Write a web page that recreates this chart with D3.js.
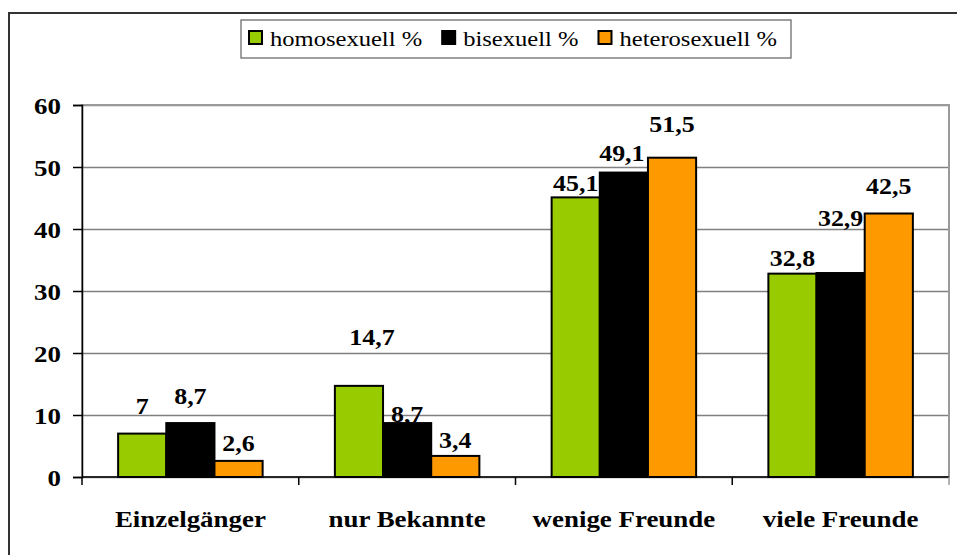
<!DOCTYPE html>
<html>
<head>
<meta charset="utf-8">
<script src="https://cdn.jsdelivr.net/npm/d3@7"></script>
<style>
body { margin: 0; background: #fff; }
</style>
</head>
<body>
<svg id="chart" width="957" height="555"></svg>
<script>
var categories = ['Einzelgänger', 'nur Bekannte', 'wenige Freunde', 'viele Freunde'];
var seriesNames = ['homosexuell %', 'bisexuell %', 'heterosexuell %'];
var homosexuell = [7, 14.7, 45.1, 32.8];
var bisexuell = [8.7, 8.7, 49.1, 32.9];
var heterosexuell = [2.6, 3.4, 51.5, 42.5];
var seriesColors = ['#99cc00', '#000000', '#ff9900'];
var yTicks = [0, 10, 20, 30, 40, 50, 60];

// the labels in the original were dragged by hand, so each one has its own lift (px above bar top)
var labelLift = [[20, 41, 6, 8], [19, 1, 12, 47], [10, 8, 26, 20]];
var labelNudge = [[0, 13, 0, 0], [0, 0, -2, 0], [0, 0, 0, 0]];

var FONT = '"Liberation Serif", "Times New Roman", Times, "DejaVu Serif", serif';

var svg = d3.select('#chart');
var plotL = 82, plotR = 949, plotT = 105, plotB = 477;
var sx = 1.17; // the original picture is stretched sideways

var series = [homosexuell, bisexuell, heterosexuell];

var x0 = d3.scaleBand().domain(categories).range([plotL, plotR]);
var groupW = x0.bandwidth() * 3 / 4.5; // excel gap width 150%
var x1 = d3.scaleBand().domain(d3.range(series.length))
    .range([(x0.bandwidth() - groupW) / 2, (x0.bandwidth() + groupW) / 2]);
var y = d3.scaleLinear().domain([0, 60]).range([plotB, plotT]);

function fmt(v) {
    return String(v).replace('.', ',');
}

// put a text at x,y and stretch it horizontally
function stretch(sel, k) {
    sel.each(function () {
        var t = d3.select(this);
        var tx = +t.attr('x') || 0, ty = +t.attr('y') || 0;
        t.attr('x', 0).attr('y', 0)
            .attr('transform', 'translate(' + tx + ',' + ty + ') scale(' + k + ',1)');
    });
}

function serif(sel, size, weight) {
    sel.attr('font-family', FONT)
        .style('font-family', FONT)
        .style('font-size', size + 'px')
        .style('font-weight', weight || 'normal')
        .attr('fill', '#000');
}

// outer chart frame (only top and left survive in the crop)
svg.append('path')
    .attr('d', 'M9,555V13H957')
    .attr('fill', 'none')
    .attr('stroke', '#333')
    .attr('stroke-width', 2);

// gridlines
svg.append('g')
    .attr('transform', 'translate(' + plotL + ',0)')
    .call(d3.axisLeft(y).tickValues(yTicks).tickSize(-(plotR - plotL)).tickFormat(''))
    .call(function (g) {
        g.select('.domain').remove();
        g.selectAll('line').attr('stroke', '#808080').attr('stroke-width', 1.3);
    });

// plot area border
svg.append('rect')
    .attr('x', plotL).attr('y', plotT)
    .attr('width', plotR - plotL).attr('height', plotB - plotT)
    .attr('fill', 'none')
    .attr('stroke', '#9a9a9a')
    .attr('stroke-width', 2);

// bars
var groups = svg.selectAll('.cat')
    .data(categories)
    .enter().append('g')
    .attr('class', 'cat')
    .attr('transform', function (d) { return 'translate(' + x0(d) + ',0)'; });

groups.selectAll('rect')
    .data(function (d, i) {
        return series.map(function (s, j) { return { s: j, c: i, v: s[i] }; });
    })
    .enter().append('rect')
    .attr('x', function (d) { return x1(d.s); })
    .attr('y', function (d) { return y(d.v); })
    .attr('width', x1.bandwidth())
    .attr('height', function (d) { return y(0) - y(d.v); })
    .attr('fill', function (d) { return seriesColors[d.s]; })
    .attr('stroke', '#000')
    .attr('stroke-width', 2);

// value labels
groups.selectAll('text.val')
    .data(function (d, i) {
        return series.map(function (s, j) { return { s: j, c: i, v: s[i] }; });
    })
    .enter().append('text')
    .attr('class', 'val')
    .attr('x', function (d) { return x1(d.s) + x1.bandwidth() / 2 + labelNudge[d.s][d.c]; })
    .attr('y', function (d) { return y(d.v) - labelLift[d.s][d.c]; })
    .attr('text-anchor', 'middle')
    .call(serif, 24, 'bold')
    .text(function (d) { return fmt(d.v); })
    .call(stretch, 1.08);

// y axis
svg.append('g')
    .attr('transform', 'translate(' + plotL + ',0)')
    .call(d3.axisLeft(y).tickValues(yTicks).tickSize(9).tickPadding(12).tickFormat(d3.format('d')))
    .call(function (g) {
        g.attr('font-family', null);
        g.select('.domain').attr('stroke', '#000').attr('stroke-width', 1.5);
        g.selectAll('line').attr('stroke', '#000').attr('stroke-width', 1.5);
        g.selectAll('text')
            .attr('dy', null)
            .attr('y', 8)
            .call(serif, 23, 'bold')
            .call(stretch, sx);
    });

// x axis: baseline plus ticks between categories
svg.append('line')
    .attr('x1', plotL).attr('x2', plotR)
    .attr('y1', plotB).attr('y2', plotB)
    .attr('stroke', '#000').attr('stroke-width', 1.5);

svg.selectAll('.xtick')
    .data(d3.range(categories.length + 1))
    .enter().append('line')
    .attr('x1', function (i) { return plotL + i * x0.step(); })
    .attr('x2', function (i) { return plotL + i * x0.step(); })
    .attr('y1', plotB).attr('y2', plotB + 8)
    .attr('stroke', function (i) { return i === categories.length ? '#9a9a9a' : '#000'; })
    .attr('stroke-width', 1.5);

svg.selectAll('.catlabel')
    .data(categories)
    .enter().append('text')
    .attr('class', 'catlabel')
    .attr('x', function (d) { return x0(d) + x0.bandwidth() / 2; })
    .attr('y', 527)
    .attr('text-anchor', 'middle')
    .call(serif, 23, 'bold')
    .text(function (d) { return d; })
    .call(stretch, sx);

// legend
var legend = svg.append('g');
legend.append('rect')
    .attr('x', 241).attr('y', 20)
    .attr('width', 550).attr('height', 38)
    .attr('fill', '#fff')
    .attr('stroke', '#808080')
    .attr('stroke-width', 1.5);

var lx = 249;
seriesNames.forEach(function (name, i) {
    legend.append('rect')
        .attr('x', lx).attr('y', 31)
        .attr('width', 13).attr('height', 13)
        .attr('fill', seriesColors[i])
        .attr('stroke', '#000')
        .attr('stroke-width', 2);
    var t = legend.append('text')
        .attr('x', lx + 21).attr('y', 46)
        .call(serif, 21)
        .text(name);
    var w = t.node().getComputedTextLength() * sx;
    t.call(stretch, sx);
    lx += 21 + w + 20;
});
</script>
</body>
</html>
